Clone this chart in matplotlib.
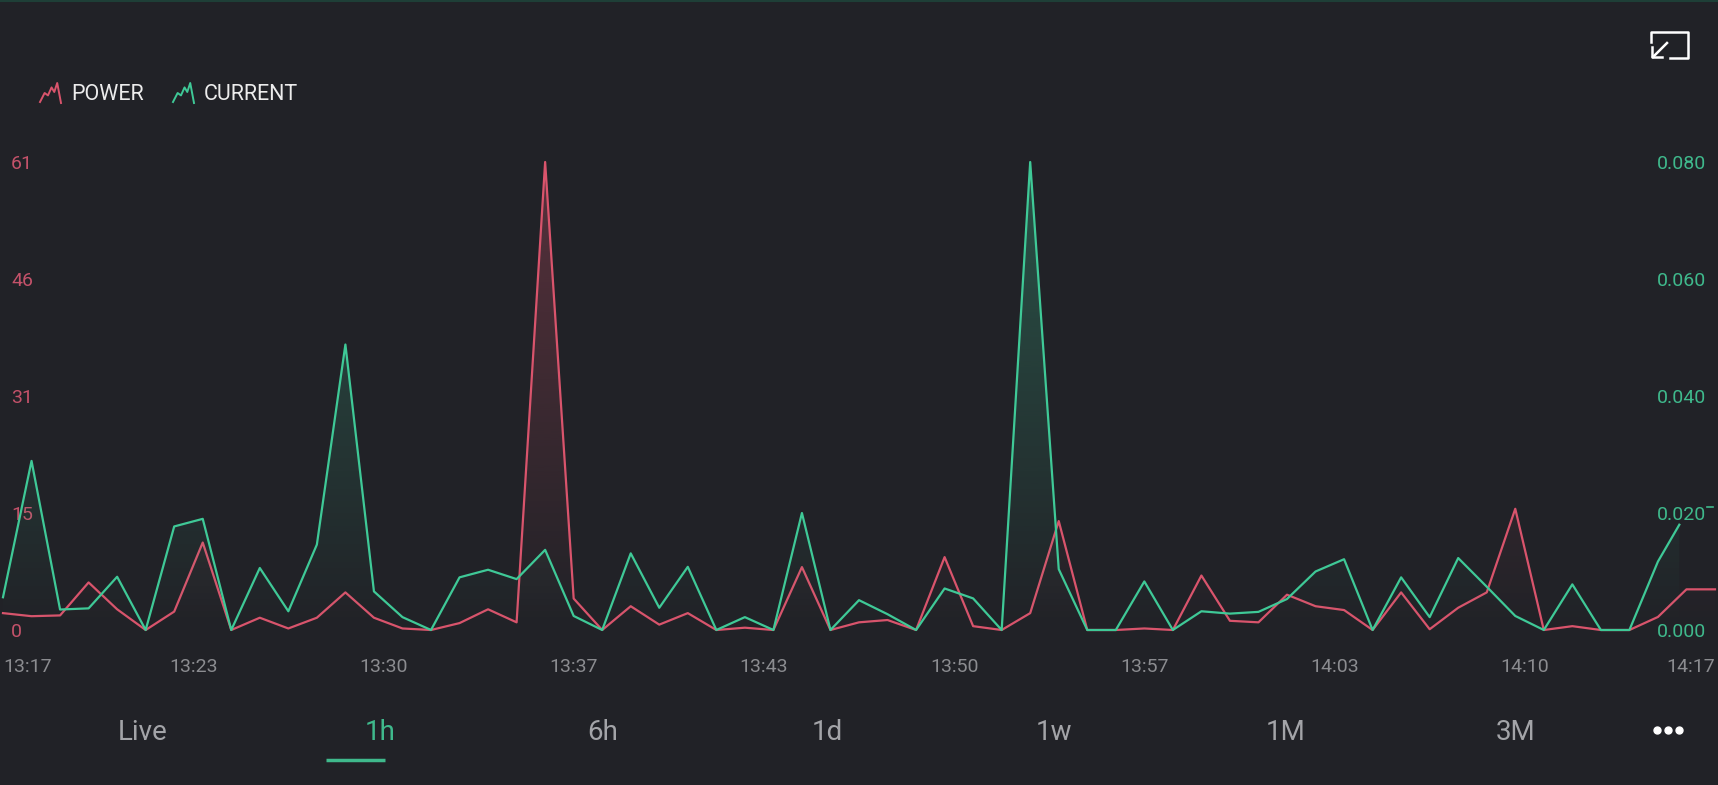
#!/usr/bin/env python3
# blynk-style superchart: POWER / CURRENT over the last hour

import numpy as np
import matplotlib
matplotlib.use('Agg')
import matplotlib.pyplot as plt
from matplotlib.colors import to_rgb

# %% data (one sample per minute, 13:17 -> 14:17)
power_minutes = list(range(61))
power = [2.2, 1.8, 1.9, 6.2, 2.7, 0, 2.4, 11.4, 0, 1.6,
         0.2, 1.6, 4.9, 1.6, 0.2, 0, 0.9, 2.7, 1.0, 61.0,
         4.1, 0, 3.1, 0.7, 2.2, 0, 0.3, 0, 8.2, 0,
         1.0, 1.3, 0, 9.5, 0.5, 0, 2.2, 14.2, 0, 0,
         0.2, 0, 7.1, 1.2, 1.0, 4.6, 3.1, 2.6, 0, 4.9,
         0.1, 2.9, 4.9, 15.8, 0, 0.5, 0, 0, 1.7, 5.3,
         5.3]

current_minutes = list(range(59)) + [58.75]
current = [0.0056, 0.0289, 0.0035, 0.0037, 0.0091, 0, 0.0177, 0.0190, 0, 0.0106,
           0.0032, 0.0146, 0.0488, 0.0066, 0.0022, 0, 0.0090, 0.0103, 0.0087, 0.0137,
           0.0024, 0, 0.0131, 0.0038, 0.0108, 0, 0.0022, 0, 0.0200, 0,
           0.0051, 0.0027, 0, 0.0071, 0.0054, 0, 0.0800, 0.0104, 0, 0,
           0.0083, 0, 0.0032, 0.0028, 0.0031, 0.0053, 0.0100, 0.0121, 0, 0.0090,
           0.0022, 0.0123, 0.0074, 0.0024, 0, 0.0078, 0, 0, 0.0117, 0.0180]

time_labels = ['13:17', '13:23', '13:30', '13:37', '13:43',
               '13:50', '13:57', '14:03', '14:10', '14:17']
power_ticks = ['0', '15', '31', '46', '61']
current_ticks = ['0.000', '0.020', '0.040', '0.060', '0.080']
power_max = 61
current_max = 0.08

series_names = ['POWER', 'CURRENT']
tabs = ['Live', '1h', '6h', '1d', '1w', '1M', '3M']
active_tab = '1h'

# %% style
BG = '#212227'
RED = '#d9546c'
GREEN = '#3fc997'
RED_TXT = '#c4526a'
GREEN_TXT = '#3fb98c'
GRAY = '#8b8c90'
TAB_GRAY = '#a3a4a8'
plt.rcParams['font.family'] = ['Roboto', 'DejaVu Sans']

W, H, DPI = 1718, 785, 100
px = 72 / DPI  # pixels -> points


def gradient_fill(axis, x, y, color, top, alpha_top):
    x = np.asarray(x, dtype=float)
    poly = axis.fill_between(x, y, 0, facecolor='none', edgecolor='none', lw=0)
    grad = np.zeros((256, 1, 4))
    grad[..., :3] = to_rgb(color)
    grad[..., 3] = np.linspace(0, alpha_top, 256)[:, None]
    im = axis.imshow(grad, aspect='auto', origin='lower',
                     extent=[x.min(), x.max(), 0, top], zorder=1)
    im.set_clip_path(poly.get_paths()[0], transform=axis.transData)


fig = plt.figure(figsize=(W / DPI, H / DPI), dpi=DPI, facecolor=BG)
ax = fig.add_axes([3 / W, 1 - 630 / H, (1715 - 3) / W, (630 - 162) / H])
ax.set_facecolor('none')
ax2 = ax.twinx()
ax2.set_facecolor('none')

# power on the left axis
gradient_fill(ax, power_minutes, power, RED, power_max, 0.3)
ax.plot(power_minutes, power, color=RED, lw=1.6, clip_on=False, zorder=3)
# current on the right axis (drawn on top)
gradient_fill(ax2, current_minutes, current, GREEN, current_max, 0.3)
ax2.plot(current_minutes, current, color=GREEN, lw=1.6, clip_on=False, zorder=3)

ax.set_xlim(0, 60)
ax.set_ylim(0, power_max)
ax2.set_ylim(0, current_max)

for a in (ax, ax2):
    for s in a.spines.values():
        s.set_visible(False)

ax.set_yticks(np.linspace(0, power_max, 5), power_ticks)
ax.tick_params(axis='y', length=0, pad=-8 * px, labelsize=14, labelcolor=RED_TXT)
plt.setp(ax.get_yticklabels(), ha='left')

ax2.set_yticks(np.linspace(0, current_max, 5), current_ticks)
ax2.tick_params(axis='y', length=0, pad=-9 * px, labelsize=14, labelcolor=GREEN_TXT)
plt.setp(ax2.get_yticklabels(), ha='right')

ax.set_xticks(np.linspace(0, 60, len(time_labels)), time_labels)
ax.tick_params(axis='x', length=0, pad=28 * px, labelsize=14, labelcolor=GRAY)
xt = ax.get_xticklabels()
xt[0].set_ha('left')
xt[-1].set_ha('right')

# %% overlay for the app chrome, in pixel coordinates
ov = fig.add_axes([0, 0, 1, 1])
ov.set_xlim(0, W)
ov.set_ylim(H, 0)
ov.axis('off')
ov.axhline(0.8, color='#1e3f37', lw=1.5)

# legend with little zigzag icons
icon = np.array([[0, 0.05], [0.22, 0.5], [0.38, 0.38], [0.55, 0.78],
                 [0.68, 0.55], [0.82, 1.0], [1.0, 0.0]])
for name, color, x0, tx in zip(series_names, [RED, GREEN], [40, 173], [71, 204]):
    ov.plot(x0 + icon[:, 0] * 21, 103 - icon[:, 1] * 20, color=color, lw=1.4)
    ov.text(tx, 95, name, color='#ececec', fontsize=15.5, va='center', ha='left')

# expand icon, top right
ov.plot([1651, 1651, 1688, 1688, 1670], [42, 32, 32, 58, 58], color='white', lw=1.8)
ov.plot([1667, 1653], [43, 57], color='white', lw=1.8)
ov.plot([1652, 1652, 1662], [47, 57, 57], color='white', lw=1.8)

# small dash beside the 0.020 label
ov.plot([1707, 1713], [507, 507], color=GREEN_TXT, lw=1.2)

# time range tabs
tab_x = [143, 380, 603, 827, 1054, 1286, 1516]
for lab, x in zip(tabs, tab_x):
    col = GREEN_TXT if lab == active_tab else TAB_GRAY
    ov.text(x, 733, lab, color=col, fontsize=20, ha='center', va='center')
ov.plot([326, 385], [760, 760], color=GREEN_TXT, lw=2.5, solid_capstyle='butt')
for dx in (-11, 0, 11):
    ov.plot(1668 + dx, 730, 'o', color='white', ms=5)

fig.savefig('out.png', dpi=DPI, facecolor=BG)
